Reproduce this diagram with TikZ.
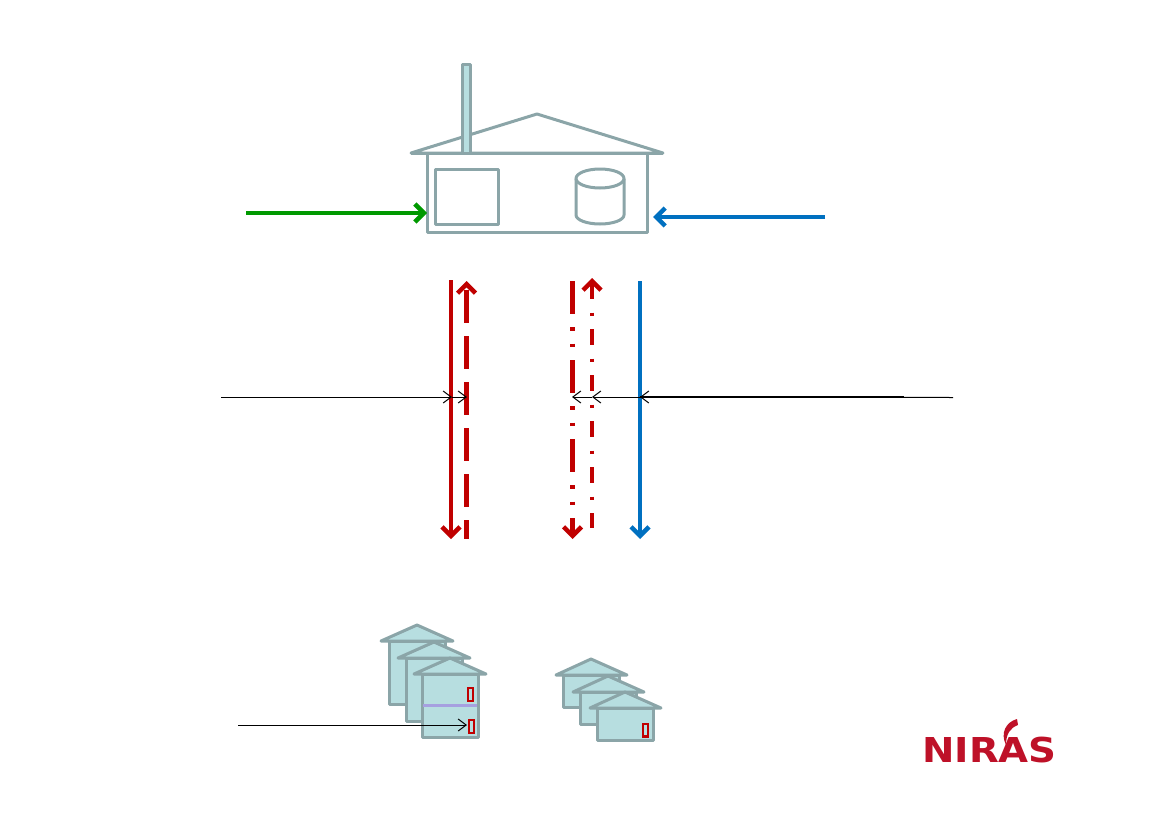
\documentclass[tikz,border=0pt]{standalone}
\usepackage{fontspec}
\setmainfont{Liberation Sans}
\newfontfamily\logofont{DejaVu Sans}
\usetikzlibrary{arrows.meta}
\definecolor{houseline}{HTML}{8BA5A8}
\definecolor{housefill}{HTML}{B7DEE0}
\definecolor{pipered}{HTML}{C00000}
\definecolor{pipeblue}{HTML}{0070C0}
\definecolor{pipegreen}{HTML}{009900}
\definecolor{logored}{HTML}{BE1128}
\definecolor{levelline}{HTML}{A6A0E0}
\tikzset{
	wall/.style={draw=houseline, line width=3pt, line join=round},
	pipe/.style={line width=4.5pt, -{Straight Barb[length=9pt,width=18pt]}},
	backpipe/.style={line width=4.5pt, {Straight Barb[length=9pt,width=18pt]}-},
	leader/.style={line width=1pt, -{Straight Barb[length=8pt,width=12pt]}},
	meter/.style={draw=pipered, line width=2.4pt, fill=housefill},
}
\begin{document}
\begin{tikzpicture}[x=1pt, y=-1pt]
	\useasboundingbox (0, 0) rectangle (1169, 827);

	% Draw plant building
	\draw[wall] (427, 153) rectangle (647, 232);
	\draw[wall] (411, 153) -- (537, 114) -- (663, 153) -- cycle;
	\draw[wall, fill=housefill] (462.5, 64) rectangle (470, 153);
	\draw[wall] (411, 153) -- (663, 153);
	\draw[wall] (435, 169) rectangle (498, 224);

	% Draw storage tank
	\draw[wall] (576, 178.5) -- (576, 215) arc[start angle=180, end angle=0, x radius=24, y radius=9]
		-- (624, 178.5);
	\draw[wall] (600, 178.5) ellipse[x radius=24, y radius=9.5];

	% Draw inlet arrows
	\coordinate (fuelstart) at (246, 213);
	\coordinate (fuelend) at (427, 213);
	\coordinate (waterstart) at (825, 217);
	\coordinate (waterend) at (653, 217);
	\draw[pipe, pipegreen] (fuelstart) -- (fuelend);
	\draw[pipe, pipeblue] (waterstart) -- (waterend);

	% Draw vertical pipes
	\coordinate (supplytop) at (451, 280);
	\coordinate (supplybottom) at (451, 539);
	\coordinate (returntop) at (466.5, 281);
	\coordinate (returnbottom) at (466.5, 539);
	\coordinate (auxtop) at (572.5, 281);
	\coordinate (auxbottom) at (572.5, 539);
	\coordinate (auxbacktop) at (592, 278);
	\coordinate (auxbackbottom) at (592, 528);
	\coordinate (coldtop) at (640, 281);
	\coordinate (coldbottom) at (640, 539);
	\draw[pipe, pipered] (supplytop) -- (supplybottom);
	\draw[backpipe, pipered, dash pattern=on 33pt off 13pt, dash phase=-4pt] (returntop) -- (returnbottom);
	\draw[pipe, pipered, dash pattern=on 33pt off 13pt on 3.7pt off 13pt on 3.7pt off 12.6pt] (auxtop) -- (auxbottom);
	\draw[backpipe, pipered, dash pattern=on 16pt off 13.3pt on 3.5pt off 13.2pt] (auxbacktop) -- (auxbackbottom);
	\draw[pipe, pipeblue] (coldtop) -- (coldbottom);

	% Draw left group of houses
	\foreach \dx/\dy in {0/0, 17/17, 33/33}{
		\draw[wall, fill=housefill] (389+\dx, 641+\dy) rectangle (445+\dx, 704+\dy);
		\draw[wall, fill=housefill] (381+\dx, 641+\dy) -- (417+\dx, 625+\dy) -- (453+\dx, 641+\dy) -- cycle;
	}
	\draw[line width=3pt, levelline] (423, 705) -- (477, 705);
	\draw[meter] (467.9, 688.2) rectangle (473.1, 701.1);
	\draw[meter] (468.9, 720.2) rectangle (474.1, 733.1);

	% Draw right group of houses
	\foreach \dx/\dy in {0/0, 17/17, 34/33}{
		\draw[wall, fill=housefill] (563+\dx, 675+\dy) rectangle (619+\dx, 707+\dy);
		\draw[wall, fill=housefill] (556+\dx, 675+\dy) -- (591+\dx, 659+\dy) -- (627+\dx, 675+\dy) -- cycle;
	}
	\draw[meter] (642.9, 723.9) rectangle (648.1, 736.5);

	% Draw leader lines
	\coordinate (leftlabel) at (221, 397);
	\coordinate (rightlabel) at (953, 397.5);
	\coordinate (rightthick) at (904, 397);
	\coordinate (meterlabel) at (238, 725);
	\coordinate (supplyhit) at (452, 397);
	\coordinate (returnhit) at (467, 397);
	\coordinate (coldhit) at (640, 397);
	\coordinate (auxbackhit) at (592, 397);
	\coordinate (auxhit) at (572, 397);
	\coordinate (meterhit) at (467, 725);
	\draw[leader] (leftlabel) -- (supplyhit);
	\draw[leader] (supplyhit) -- (returnhit);
	\draw[leader] (rightlabel) -- (coldhit);
	\draw[line width=1.4pt] (rightthick) -- (coldhit);
	\draw[leader] (coldhit) -- (auxbackhit);
	\draw[leader] (auxbackhit) -- (auxhit);
	\draw[leader] (meterlabel) -- (meterhit);

	% Draw logo
	\node[logored, anchor=base, inner sep=0pt, xscale=1.13] (logo) at (989.5, 762)
		{\fontsize{34.3}{35}\logofont\bfseries NIRAS};
	\fill[logored] (1017, 719) .. controls (1006, 722) and (1000, 733) .. (1006, 745)
		.. controls (1006, 734) and (1010, 728) .. (1018, 725) -- cycle;
\end{tikzpicture}
\end{document}
